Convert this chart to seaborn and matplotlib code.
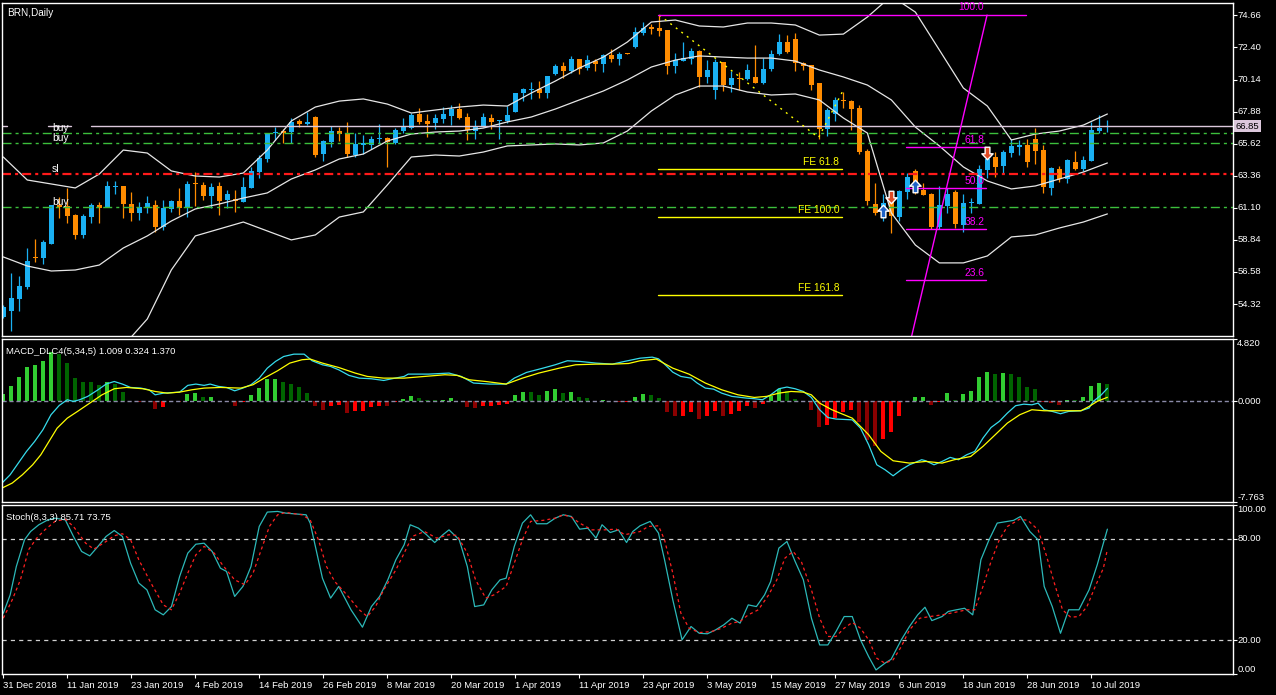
import numpy as np
import matplotlib
matplotlib.use("Agg")
import matplotlib.pyplot as plt
import seaborn as sns
from matplotlib.path import Path

# ==========================
# Data
# ==========================

tick_bars = list(range(0, 137, 8))
tick_dates = ["31 Dec 2018", "11 Jan 2019", "23 Jan 2019", "4 Feb 2019", "14 Feb 2019",
              "26 Feb 2019", "8 Mar 2019", "20 Mar 2019", "1 Apr 2019", "11 Apr 2019",
              "23 Apr 2019", "3 May 2019", "15 May 2019", "27 May 2019", "6 Jun 2019",
              "18 Jun 2019", "28 Jun 2019", "10 Jul 2019"]

opens = [53.39, 53.86, 54.68, 55.55, 57.64, 57.59, 58.53, 61.30, 61.23, 60.60,
         59.19, 60.48, 61.30, 61.14, 62.59, 62.64, 61.37, 60.76, 61.11, 61.30,
         59.77, 61.02, 61.58, 61.07, 62.85, 62.71, 61.96, 62.64, 61.65, 61.70,
         61.53, 62.52, 63.65, 64.54, 66.37, 66.51, 66.46, 67.22, 67.00, 67.52,
         64.89, 65.76, 66.51, 66.35, 64.82, 65.55, 65.53, 65.93, 66.04, 65.65,
         66.51, 66.70, 67.71, 67.22, 67.05, 67.36, 67.57, 68.06, 67.52, 66.53,
         66.81, 67.45, 67.24, 67.22, 67.87, 69.17, 69.40, 69.47, 69.21, 70.53,
         71.09, 70.74, 71.56, 70.93, 71.44, 71.23, 71.86, 71.58, 72.03, 72.45,
         73.44, 73.81, 73.79, 73.63, 71.11, 71.46, 71.56, 72.15, 70.34, 69.40,
         71.35, 69.75, 70.27, 70.17, 70.29, 69.91, 70.88, 71.91, 72.76, 72.99,
         71.32, 71.16, 69.91, 66.65, 67.71, 68.70, 68.65, 68.11, 65.10, 61.37,
         60.71, 61.53, 60.48, 62.24, 63.70, 62.36, 62.07, 59.73, 61.25, 62.20,
         59.89, 61.42, 61.37, 63.77, 64.70, 64.07, 64.98, 65.41, 65.53, 65.95,
         65.17, 62.52, 63.84, 63.11, 64.31, 63.84, 64.42, 66.53, 66.77]
highs = [54.26, 56.49, 56.30, 58.29, 58.90, 58.84, 61.30, 61.88, 62.50, 60.67,
         60.65, 61.42, 61.53, 62.99, 62.99, 62.64, 62.24, 61.49, 61.93, 61.65,
         61.65, 61.65, 62.48, 62.99, 63.60, 62.94, 62.83, 62.94, 62.36, 62.36,
         63.29, 64.00, 64.82, 66.39, 66.81, 66.65, 67.41, 67.36, 67.83, 67.57,
         65.88, 66.86, 66.81, 67.12, 66.35, 66.23, 66.16, 66.98, 66.11, 66.74,
         67.45, 67.76, 68.15, 67.71, 67.71, 68.18, 68.34, 68.50, 67.80, 67.29,
         67.80, 67.71, 67.29, 68.29, 69.17, 69.56, 69.94, 70.03, 70.42, 71.23,
         71.35, 71.79, 71.56, 71.87, 71.58, 71.93, 72.29, 72.10, 72.03, 73.81,
         74.21, 74.05, 74.68, 73.63, 72.03, 72.76, 72.34, 72.22, 71.51, 71.56,
         71.35, 70.76, 70.69, 71.21, 72.57, 71.63, 72.22, 73.34, 73.27, 73.39,
         71.39, 71.16, 69.91, 68.11, 68.89, 69.28, 68.70, 68.34, 65.24, 62.83,
         62.05, 61.65, 62.36, 63.53, 63.84, 62.83, 62.12, 62.64, 62.48, 62.36,
         62.05, 61.77, 64.12, 64.70, 65.01, 65.17, 65.98, 65.88, 65.93, 66.70,
         65.53, 64.00, 64.05, 64.54, 65.10, 64.77, 67.12, 67.64, 67.29]
lows = [53.34, 52.45, 53.86, 55.36, 57.31, 57.12, 58.53, 60.36, 60.05, 58.88,
        59.00, 60.01, 60.01, 61.14, 62.05, 60.41, 60.17, 60.24, 60.72, 59.38,
        59.54, 60.83, 60.60, 60.43, 61.25, 61.65, 61.07, 60.60, 61.07, 60.83,
        61.49, 62.48, 63.22, 64.35, 65.88, 65.65, 65.65, 66.77, 66.94, 64.66,
        64.42, 65.40, 65.83, 64.66, 64.70, 64.89, 65.22, 65.65, 64.00, 65.60,
        66.35, 66.65, 67.00, 66.11, 66.65, 67.10, 66.93, 67.36, 65.88, 65.95,
        66.77, 66.63, 65.93, 67.10, 67.87, 68.65, 68.77, 68.86, 68.86, 70.46,
        70.27, 70.58, 70.53, 70.81, 70.74, 70.69, 71.39, 71.16, 71.91, 72.38,
        73.27, 73.34, 73.20, 70.53, 70.62, 71.44, 71.23, 69.63, 69.91, 68.77,
        69.35, 69.28, 69.40, 70.10, 69.87, 69.82, 70.74, 71.86, 71.98, 70.76,
        70.81, 69.40, 65.93, 66.18, 67.24, 68.11, 66.58, 64.89, 61.30, 60.60,
        60.20, 59.35, 60.20, 61.72, 62.05, 62.00, 59.61, 59.61, 60.72, 59.66,
        59.38, 60.72, 61.37, 63.22, 63.29, 63.46, 64.70, 64.82, 64.00, 64.19,
        62.17, 62.00, 62.94, 62.87, 63.77, 63.72, 64.42, 66.35, 66.42]
closes = [54.14, 54.73, 55.60, 57.36, 57.60, 58.69, 61.30, 61.14, 60.55, 59.19,
          60.53, 61.30, 61.11, 62.64, 62.64, 61.35, 60.76, 61.14, 61.46, 59.73,
          61.11, 61.58, 61.11, 62.78, 62.76, 61.96, 62.59, 61.58, 62.07, 61.58,
          62.55, 63.70, 64.59, 66.39, 66.39, 66.35, 67.17, 67.00, 67.12, 64.82,
          65.81, 66.51, 66.30, 64.89, 65.60, 65.65, 65.95, 66.04, 65.76, 66.58,
          66.89, 67.64, 67.17, 67.00, 67.45, 67.71, 68.06, 67.45, 66.58, 66.86,
          67.52, 67.17, 67.29, 67.64, 69.17, 69.47, 69.47, 69.17, 70.42, 71.09,
          70.76, 71.56, 70.88, 71.51, 71.23, 71.86, 71.58, 71.93, 71.91, 73.46,
          73.79, 73.70, 73.55, 71.11, 71.51, 71.63, 72.15, 70.34, 70.81, 71.35,
          69.75, 70.27, 70.17, 70.81, 69.91, 70.88, 71.93, 72.76, 72.10, 71.28,
          71.11, 69.75, 66.65, 67.99, 68.70, 68.62, 68.06, 65.01, 61.58, 60.76,
          61.42, 60.55, 62.29, 63.29, 62.64, 62.00, 59.73, 61.30, 62.07, 59.96,
          61.42, 61.46, 63.81, 64.54, 64.00, 65.01, 65.45, 65.53, 64.35, 65.12,
          62.59, 63.93, 63.13, 64.47, 63.84, 64.47, 66.58, 66.74, 66.86]

# Bollinger bands, read every 3 bars
band_bars = list(range(0, 139, 3))
band_upper = [64.68, 63.06, 62.78, 62.50, 63.48, 65.17, 64.96, 63.70, 63.34, 63.27,
              63.55, 65.17, 67.22, 68.20, 68.62, 68.77, 68.41, 67.78, 67.99, 68.20,
              68.34, 68.27, 69.19, 70.03, 70.95, 71.72, 72.78, 74.19, 74.33, 73.91,
              73.84, 74.12, 74.12, 73.98, 73.27, 73.34, 74.54, 76.02, 74.89, 72.22,
              69.54, 68.27, 65.88, 66.30, 66.51, 66.93, 67.71]
band_mid = [57.64, 57.00, 56.65, 56.72, 57.07, 58.27, 59.12, 60.17, 61.02, 61.37,
            61.79, 62.15, 63.13, 63.77, 64.54, 64.89, 65.81, 66.30, 66.44, 66.51,
            66.72, 67.15, 67.50, 68.06, 68.70, 69.33, 70.11, 71.02, 71.51, 71.80,
            71.72, 71.65, 71.65, 71.44, 70.81, 70.32, 69.75, 68.70, 66.79, 65.46,
            63.98, 62.99, 62.43, 62.64, 63.13, 63.62, 64.26]
band_lower = [50.59, 50.95, 50.52, 50.95, 50.67, 51.37, 53.27, 56.72, 59.12, 59.61,
              60.10, 59.47, 58.84, 59.19, 60.45, 60.81, 62.71, 64.68, 64.82, 64.75,
              65.03, 65.46, 65.53, 65.60, 65.53, 65.67, 66.51, 67.92, 69.05, 69.68,
              69.68, 69.26, 69.05, 69.12, 68.70, 67.43, 66.37, 60.74, 58.48, 57.22,
              57.22, 57.71, 59.05, 59.19, 59.68, 60.10, 60.67]

# horizontal levels and drawing objects
bid_price = 66.85
buy_levels = [66.35, 65.64, 61.14]
sl_level = 63.46
level_labels = ["buy", "buy", "sl", "buy"]
level_label_prices = [66.35, 65.64, 63.46, 61.14]
fe_levels = [63.81, 60.43, 54.94]
fe_labels = ["FE 61.8", "FE 100.0", "FE 161.8"]
fib_top = 74.68
fib_levels = [65.36, 62.48, 59.59, 55.99]
fib_labels = ["61.8", "50.0", "38.2", "23.6"]
fib_diag_bars = [112.8, 122.96]
fib_diag_prices = [50.3, 74.68]
zigzag_bars = [82.0, 101.9, 104.9]
zigzag_prices = [74.68, 66.05, 69.30]
buy_arrow_bars = [110, 114]
buy_arrow_prices = [60.90, 62.64]
sell_arrow_bars = [111, 123]
sell_arrow_prices = [61.86, 64.96]
price_ticks = [74.66, 72.40, 70.14, 67.88, 65.62, 63.36, 61.10, 58.84, 56.58, 54.32]

# MACD histogram, one value per bar
macd_hist = [0.57, 1.21, 1.85, 2.62, 2.83, 3.09, 3.78, 3.68, 2.93, 1.78,
             1.52, 1.52, 1.29, 1.52, 1.36, 0.75, 0.05, -0.08, 0.03, -0.62,
             -0.41, -0.05, -0.08, 0.57, 0.67, 0.36, 0.38, 0.02, -0.08, -0.33,
             -0.02, 0.51, 1.03, 1.72, 1.75, 1.49, 1.36, 1.08, 0.67, -0.39,
             -0.64, -0.39, -0.31, -0.93, -0.77, -0.72, -0.46, -0.39, -0.39, -0.08,
             0.18, 0.41, 0.28, 0.13, 0.10, 0.13, 0.23, 0.02, -0.46, -0.54,
             -0.33, -0.32, -0.26, -0.18, 0.51, 0.72, 0.72, 0.51, 0.82, 0.93,
             0.67, 0.72, 0.36, 0.28, 0.02, 0.10, 0.02, -0.05, -0.02, 0.36,
             0.57, 0.49, 0.28, -0.85, -1.16, -1.11, -0.85, -1.34, -1.16, -0.77,
             -1.16, -0.98, -0.77, -0.39, -0.51, -0.18, 0.44, 0.95, 0.77, 0.18,
             -0.08, -0.69, -2.01, -1.85, -1.24, -0.82, -0.64, -1.60, -3.01, -3.43,
             -2.88, -2.39, -1.16, 0.02, 0.31, 0.36, -0.31, -0.02, 0.64, 0.10,
             0.57, 0.82, 1.85, 2.26, 2.14, 2.19, 2.14, 1.88, 1.11, 0.98,
             -0.08, -0.10, -0.31, 0.10, 0.10, 0.36, 1.21, 1.42, 1.37]

# MACD lines, points (bar position, value)
macd_main_bars = [-0.16, 0.86, 1.88, 2.90, 3.92, 4.95, 5.96, 6.99, 8.0, 8.77,
                  9.54, 10.56, 11.84, 12.85, 13.87, 14.89, 15.91, 17.19, 18.21, 18.98,
                  20.0, 22.04, 23.06, 24.07, 25.1, 25.86, 26.88, 27.9, 28.92, 29.95,
                  30.96, 31.99, 33.0, 34.03, 35.05, 36.32, 37.6, 38.6, 39.89, 40.91,
                  41.93, 43.21, 44.49, 46.01, 47.55, 48.56, 50.1, 50.61, 53.16, 55.71,
                  57.24, 58.77, 60.81, 62.85, 63.87, 65.4, 67.45, 68.98, 70.5, 72.04,
                  74.08, 76.12, 77.65, 79.59, 81.11, 81.89, 82.65, 83.68, 84.69, 85.96,
                  86.73, 87.75, 88.78, 89.79, 91.07, 92.85, 93.87, 94.89, 95.91, 96.93,
                  97.95, 98.97, 100.0, 101.0, 102.03, 103.06, 104.08, 106.11, 107.14, 108.16,
                  109.18, 110.2, 111.22, 112.24, 113.26, 114.79, 115.3, 116.33, 117.34, 118.36,
                  119.39, 120.4, 121.42, 122.45, 123.46, 124.49, 125.5, 126.53, 127.55, 128.56,
                  129.34, 130.1, 131.11, 132.14, 133.16, 134.69, 135.71, 136.23, 137.24, 138.0]
macd_main = [-6.30, -5.66, -4.76, -3.86, -3.09, -2.19, -1.03, -0.31, 0.13, 0.00,
             0.13, 0.39, 0.90, 1.34, 1.54, 1.34, 1.08, 1.03, 0.90, 0.51,
             0.64, 0.72, 1.24, 1.34, 1.24, 1.34, 1.16, 1.08, 0.82, 1.03,
             1.29, 1.80, 2.57, 3.09, 3.47, 3.65, 3.65, 3.14, 2.83, 2.70,
             2.44, 2.01, 1.80, 1.75, 1.62, 1.75, 1.93, 2.11, 2.11, 2.19,
             1.93, 1.42, 1.34, 1.34, 1.80, 2.24, 2.57, 2.83, 3.14, 3.09,
             2.96, 2.88, 3.09, 3.34, 3.42, 3.29, 2.88, 2.26, 1.93, 1.80,
             1.42, 1.03, 0.95, 0.64, 0.39, 0.26, 0.21, 0.13, 0.51, 0.98,
             1.11, 0.98, 0.77, 0.31, -0.64, -1.24, -1.36, -1.42, -2.06, -3.34,
             -4.89, -5.27, -5.74, -5.27, -4.89, -4.50, -4.58, -4.89, -4.63, -4.32,
             -4.50, -4.12, -3.86, -2.83, -2.01, -1.54, -0.90, -0.33, -0.21, -0.26,
             -0.13, -0.64, -0.77, -0.95, -0.77, -0.72, -0.51, 0.00, 0.51, 1.01]
macd_sig_bars = [-0.16, 1.12, 2.39, 3.67, 4.69, 5.71, 6.73, 8.0, 9.28, 10.81,
                 12.34, 13.87, 15.4, 17.45, 18.98, 20.5, 22.04, 23.57, 25.1, 27.14,
                 29.69, 31.22, 32.75, 34.29, 35.81, 37.34, 38.36, 39.89, 41.93, 43.98,
                 45.5, 47.55, 50.1, 52.65, 55.2, 56.73, 58.26, 60.3, 62.85, 64.89,
                 66.94, 69.49, 71.53, 74.08, 76.12, 78.16, 79.59, 81.62, 83.68, 85.7,
                 87.75, 89.79, 91.84, 93.87, 95.4, 96.93, 98.46, 100.0, 101.0, 102.03,
                 103.56, 106.11, 108.16, 109.69, 111.22, 113.26, 115.3, 117.34, 118.87, 120.91,
                 122.45, 123.98, 125.5, 127.04, 128.56, 130.1, 131.63, 133.68, 134.69, 135.71,
                 136.72, 138.0]
macd_signal = [-6.69, -6.30, -5.66, -4.89, -4.12, -3.09, -2.06, -1.29, -0.77, -0.13,
               0.51, 0.98, 1.08, 0.98, 0.77, 0.64, 0.72, 0.90, 1.03, 1.08,
               1.03, 1.29, 1.85, 2.37, 2.96, 3.22, 3.27, 2.96, 2.62, 2.19,
               1.93, 1.80, 1.80, 1.93, 2.06, 2.01, 1.67, 1.54, 1.34, 1.80,
               2.19, 2.57, 2.83, 2.88, 2.88, 2.93, 3.14, 3.27, 2.57, 2.11,
               1.42, 0.90, 0.51, 0.31, 0.39, 0.64, 0.77, 0.72, 0.51, -0.13,
               -0.64, -1.29, -2.57, -3.86, -4.58, -4.76, -4.63, -4.76, -4.50, -4.25,
               -3.47, -2.57, -1.67, -1.03, -0.64, -0.72, -0.72, -0.72, -0.72, -0.39,
               0.00, 0.32]

# Stochastic, points (bar position, value)
stoch_k_bars = [0.0, 0.86, 1.63, 2.65, 3.41, 4.44, 5.45, 6.47, 7.75, 8.77,
                9.79, 10.81, 11.84, 12.85, 13.87, 14.89, 15.91, 16.94, 17.95, 18.98,
                20.0, 21.02, 22.04, 23.06, 24.07, 25.1, 26.11, 27.14, 27.9, 28.92,
                29.95, 30.96, 31.99, 33.0, 34.29, 35.3, 37.85, 38.36, 39.89, 40.91,
                41.93, 43.46, 44.89, 46.01, 47.04, 48.06, 49.07, 50.1, 50.86, 51.89,
                52.9, 53.92, 54.95, 55.71, 56.99, 58.0, 58.92, 60.05, 61.06, 62.09,
                62.85, 63.87, 64.89, 65.91, 66.68, 67.95, 68.98, 70.0, 71.01, 72.04,
                73.06, 74.08, 74.84, 75.86, 76.89, 77.9, 78.68, 79.59, 80.86, 81.89,
                82.65, 83.68, 84.84, 85.96, 86.99, 88.0, 89.03, 90.05, 91.07, 92.09,
                93.11, 94.13, 95.15, 95.91, 96.94, 97.95, 98.97, 100.0, 101.01, 102.04,
                103.06, 104.08, 105.1, 106.11, 107.14, 108.16, 109.08, 110.2, 110.97, 112.24,
                113.26, 114.29, 115.2, 116.06, 117.34, 118.11, 119.13, 120.15, 121.17, 122.19,
                123.21, 124.23, 125.5, 126.27, 127.14, 128.31, 129.34, 130.1, 131.11, 132.14,
                133.16, 134.44, 135.71, 136.73, 137.5, 138.0]
stoch_k = [36.0, 46.8, 63.6, 79.4, 84.3, 88.3, 90.9, 92.2, 91.2, 81.4,
           72.5, 69.9, 75.5, 81.4, 84.9, 81.4, 65.6, 53.8, 49.8, 38.0,
           35.0, 39.9, 57.7, 71.5, 76.8, 77.4, 72.5, 62.6, 60.7, 45.9,
           51.8, 63.6, 87.3, 95.8, 96.2, 95.2, 94.2, 89.3, 56.7, 44.9,
           51.8, 38.0, 27.7, 39.9, 45.9, 55.7, 67.6, 76.4, 88.3, 86.3,
           82.4, 77.8, 82.4, 85.3, 79.4, 63.6, 39.9, 40.9, 49.8, 55.7,
           56.7, 75.5, 89.3, 94.2, 88.9, 88.9, 92.2, 94.2, 93.2, 85.7,
           86.3, 80.4, 88.3, 83.7, 85.3, 77.8, 84.3, 87.7, 90.3, 83.4,
           67.6, 43.9, 20.2, 28.1, 24.1, 23.8, 26.1, 29.1, 33.0, 30.1,
           40.9, 39.9, 46.8, 54.7, 74.5, 78.4, 66.6, 55.7, 33.0, 17.2,
           17.2, 25.1, 34.0, 34.0, 20.2, 10.3, 2.4, 6.4, 8.7, 20.2,
           28.1, 35.0, 39.5, 31.6, 34.0, 37.0, 38.0, 38.9, 35.0, 67.6,
           79.4, 89.3, 90.3, 90.9, 93.2, 84.3, 79.4, 51.8, 39.9, 24.1,
           38.0, 38.0, 49.8, 64.6, 77.4, 85.71]
stoch_d_bars = [0.0, 1.12, 2.14, 3.16, 4.18, 5.2, 6.47, 7.75, 8.77, 10.3,
                11.32, 12.85, 13.87, 14.89, 15.91, 16.94, 18.46, 20.0, 21.02, 22.04,
                23.06, 24.07, 25.1, 26.37, 27.39, 28.92, 30.2, 31.22, 32.24, 33.26,
                34.29, 35.3, 37.34, 38.36, 39.39, 40.4, 41.43, 42.95, 44.49, 45.5,
                46.53, 47.55, 49.07, 50.1, 51.11, 52.65, 54.18, 55.71, 56.73, 58.0,
                59.03, 60.3, 61.32, 62.85, 63.87, 64.89, 65.91, 67.45, 68.98, 70.0,
                71.01, 72.04, 73.56, 75.1, 76.62, 77.65, 79.59, 80.61, 81.89, 82.65,
                83.68, 84.69, 85.71, 86.99, 88.52, 89.79, 91.07, 92.09, 93.11, 94.38,
                95.66, 96.68, 97.7, 98.72, 99.74, 101.01, 102.04, 103.06, 104.08, 105.1,
                106.11, 107.14, 108.16, 109.18, 110.2, 111.22, 112.24, 113.26, 114.54, 115.81,
                117.34, 118.87, 120.4, 121.42, 122.45, 123.46, 124.49, 125.5, 127.04, 128.06,
                129.34, 130.35, 131.37, 132.39, 133.41, 134.44, 135.45, 136.48, 137.5, 138.0]
stoch_d = [33.0, 43.9, 55.7, 73.5, 80.4, 85.3, 90.3, 91.6, 87.3, 77.4,
           73.9, 78.4, 81.8, 83.0, 79.4, 67.6, 53.8, 40.9, 38.0, 47.8,
           59.7, 70.5, 75.5, 71.5, 64.6, 55.7, 52.8, 59.7, 73.5, 87.3,
           94.2, 95.6, 94.2, 91.2, 79.4, 63.6, 54.7, 46.8, 38.0, 34.0,
           39.9, 49.8, 61.6, 71.5, 81.4, 84.3, 80.4, 82.4, 82.0, 71.5,
           55.7, 44.9, 46.8, 51.8, 65.6, 79.4, 90.3, 90.9, 92.2, 94.2,
           92.8, 89.3, 85.3, 85.3, 85.7, 82.4, 84.3, 87.3, 87.7, 79.4,
           59.7, 36.0, 27.1, 24.5, 25.1, 27.1, 30.1, 31.1, 35.0, 38.0,
           46.8, 55.7, 68.6, 72.5, 66.6, 49.8, 33.0, 22.2, 22.2, 27.1,
           30.5, 27.1, 20.2, 9.3, 6.4, 8.4, 16.2, 26.1, 33.0, 34.0,
           35.0, 36.4, 38.0, 38.0, 51.8, 66.6, 79.4, 87.3, 91.6, 90.9,
           85.3, 70.5, 53.8, 38.0, 33.6, 34.0, 39.9, 51.8, 62.6, 73.75]

# ==========================
# Style
# ==========================

sns.set_theme(style="dark", rc={
    "figure.facecolor": "black", "axes.facecolor": "black",
    "axes.edgecolor": "white", "text.color": "white",
    "xtick.color": "white", "ytick.color": "white",
    "axes.grid": False, "lines.scale_dashes": False,
})
plt.rcParams["font.family"] = ["Liberation Sans", "DejaVu Sans"]

FS = 6.8
BULL, BEAR = "#1ab0f2", "#ff8c00"
BAND = "#e6e6e6"
GREEN_LVL, RED_LVL = "#3cbf3c", "#ff1a1a"
DASHDOT = (0, (6.5, 2.9, 2.2, 2.9))

W, H = 1276, 695
LEFT, RIGHT = 2, 1233
XMIN, XMAX = -0.16, 153.7

fig = plt.figure(figsize=(W / 100, H / 100), dpi=100)


def panel(top, bottom):
    ax = fig.add_axes([LEFT / W, 1 - bottom / H, (RIGHT - LEFT) / W, (bottom - top) / H])
    ax.set_facecolor("black")
    for s in ax.spines.values():
        s.set_color("white")
        s.set_linewidth(1.0)
    ax.grid(False)
    ax.tick_params(axis="y", left=False, labelleft=False, right=True, labelright=False,
                   length=3, width=0.8, color="white", direction="out")
    ax.tick_params(axis="x", bottom=False, labelbottom=False)
    return ax


def right_labels(ax, values, texts, vas=None):
    ax.set_yticks(values)
    for i, (v, t) in enumerate(zip(values, texts)):
        va = vas[i] if vas else "center"
        ax.text(1.0035, v, t, transform=ax.get_yaxis_transform(), ha="left", va=va,
                color="white", fontsize=FS, clip_on=False)


ax1 = panel(3, 336)
ax2 = panel(339, 502)
ax3 = panel(505, 674)

# ==========================
# Main price panel
# ==========================

idx = np.arange(len(opens))
o, h, l, c = map(np.array, (opens, highs, lows, closes))
col = np.where(c >= o, BULL, BEAR)

ax1.vlines(idx, l, h, colors=col, linewidth=0.9)
ax1.bar(idx, np.maximum(np.abs(c - o), 0.07), bottom=np.minimum(o, c),
        width=0.62, color=col, linewidth=0)

for band in (band_upper, band_mid, band_lower):
    sns.lineplot(x=band_bars, y=band, ax=ax1, color=BAND, linewidth=0.9)

# levels
for seg in [(XMIN, 0.46), (5.6, 8.5), (10.96, XMAX)]:
    ax1.plot(seg, [bid_price, bid_price], color="#dcc8dc", linewidth=1.0)
for lv in buy_levels:
    ax1.axhline(lv, color=GREEN_LVL, linewidth=1.0, linestyle=DASHDOT)
ax1.axhline(sl_level, color=RED_LVL, linewidth=1.6, linestyle=DASHDOT)
for t, p in zip(level_labels, level_label_prices):
    ax1.text(6.1, p + 0.40, t, color="white", fontsize=FS + 0.6, ha="left", va="center")

# fibo expansion (yellow)
for lv, t in zip(fe_levels, fe_labels):
    ax1.plot([81.8, 104.8], [lv, lv], color="#ffff00", linewidth=1.0)
    ax1.text(104.5, lv + 0.49, t, color="#ffff00", fontsize=FS + 0.6, ha="right", va="center")
ax1.plot(zigzag_bars, zigzag_prices, color="#ffff00", linewidth=1.0, linestyle=(0, (1.4, 3.6)))

# fibo retracement (magenta)
MAG = "#ff00ff"
ax1.plot([81.8, 127.8], [fib_top, fib_top], color=MAG, linewidth=1.0)
ax1.text(122.6, fib_top + 0.54, "100.0", color=MAG, fontsize=FS + 0.6, ha="right", va="center")
for lv, t in zip(fib_levels, fib_labels):
    ax1.plot([112.8, 122.8], [lv, lv], color=MAG, linewidth=1.0)
    ax1.text(122.6, lv + 0.49, t, color=MAG, fontsize=FS + 0.6, ha="right", va="center")
ax1.plot(fib_diag_bars, fib_diag_prices, color=MAG, linewidth=1.0)

# trade arrows
up_arrow = Path([(0, 1), (0.9, 0.05), (0.38, 0.05), (0.38, -1), (-0.38, -1),
                 (-0.38, 0.05), (-0.9, 0.05), (0, 1)], closed=True)
down_arrow = Path([(x, -y) for x, y in up_arrow.vertices], closed=True)
ax1.plot(buy_arrow_bars, buy_arrow_prices, linestyle="none", marker=up_arrow,
         markersize=9, markerfacecolor="#1f63c6", markeredgecolor="white", markeredgewidth=1.0)
ax1.plot(sell_arrow_bars, sell_arrow_prices, linestyle="none", marker=down_arrow,
         markersize=9, markerfacecolor="#e04a24", markeredgecolor="white", markeredgewidth=1.0)

right_labels(ax1, price_ticks, [f"{v:.2f}" for v in price_ticks])
ax1.text(1.0018, bid_price, f"{bid_price:.2f}", transform=ax1.get_yaxis_transform(),
         ha="left", va="center", color="black", fontsize=FS, clip_on=False,
         bbox=dict(boxstyle="square,pad=0.18", facecolor="#dcc8dc", edgecolor="none"))
ax1.text(0.004, 0.985, "BRN,Daily", transform=ax1.transAxes, ha="left", va="top",
         color="white", fontsize=FS + 0.4)
ax1.set_xlim(XMIN, XMAX)
ax1.set_ylim(52.07, 75.53)

# ==========================
# MACD panel
# ==========================

hist = np.array(macd_hist)
prev = np.r_[-np.inf, hist[:-1]]
rising = hist > prev
hist_col = np.where(hist >= 0, np.where(rising, "#32cd32", "#006400"),
                    np.where(rising, "#ff0000", "#8b0000"))
ax2.bar(idx, hist, width=0.5, color=hist_col, linewidth=0)
ax2.axhline(0, color="#8a8aa8", linewidth=1.0, linestyle=(0, (3, 2)))
sns.lineplot(x=macd_main_bars, y=macd_main, ax=ax2, color="#36dcec", linewidth=0.9)
sns.lineplot(x=macd_sig_bars, y=macd_signal, ax=ax2, color="#ffff00", linewidth=0.9)
ax2.text(0.003, 0.95, "MACD_DLC4(5,34,5) 1.009 0.324 1.370", transform=ax2.transAxes,
         ha="left", va="top", color="white", fontsize=FS)
right_labels(ax2, [4.82, 0.0, -7.763], ["4.820", "0.000", "-7.763"], ["top", "center", "bottom"])
ax2.set_xlim(XMIN, XMAX)
ax2.set_ylim(-7.763, 4.82)

# ==========================
# Stochastic panel
# ==========================

for lv in (20, 80):
    ax3.axhline(lv, color="#cfcfcf", linewidth=0.9, linestyle=(0, (3, 3)))
sns.lineplot(x=stoch_k_bars, y=stoch_k, ax=ax3, color="#2cb8b8", linewidth=0.9)
sns.lineplot(x=stoch_d_bars, y=stoch_d, ax=ax3, color="#ff2020", linewidth=0.9,
             linestyle=(0, (2.2, 2.2)))
ax3.text(0.003, 0.95, "Stoch(8,3,3) 85.71 73.75", transform=ax3.transAxes,
         ha="left", va="top", color="white", fontsize=FS)
right_labels(ax3, [100, 80, 20, 0], ["100.00", "80.00", "20.00", "0.00"],
             ["top", "center", "center", "bottom"])
ax3.set_xticks(tick_bars)
ax3.set_xticklabels(tick_dates, ha="left")
ax3.tick_params(axis="x", bottom=True, labelbottom=True, length=3, width=0.8,
                color="white", labelcolor="white", labelsize=FS, pad=2, direction="out")
ax3.set_xlim(XMIN, XMAX)
ax3.set_ylim(0, 100)

for ax in (ax1, ax2, ax3):
    ax.set_xlabel("")
    ax.set_ylabel("")

fig.savefig("out.png", dpi=100, facecolor="black")
